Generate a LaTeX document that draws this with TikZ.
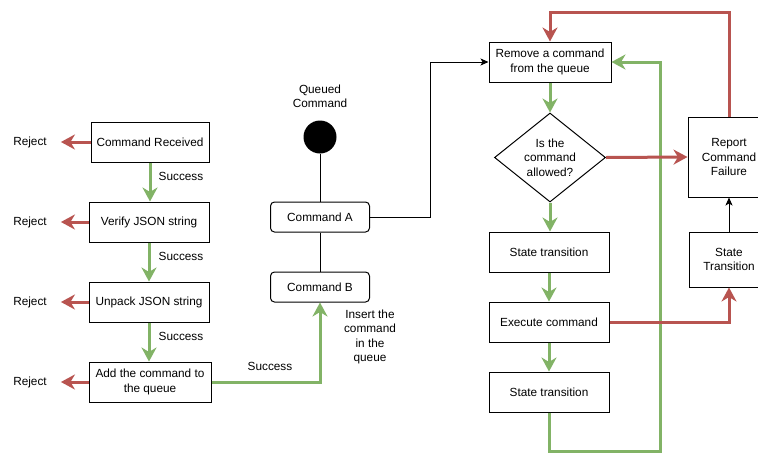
\documentclass[tikz,border=0pt]{standalone}
\usepackage{fontspec}
\setmainfont{Liberation Sans}
\usetikzlibrary{arrows.meta,shapes.geometric}
\definecolor{gr}{HTML}{82B366}
\definecolor{rd}{HTML}{B85450}
\tikzset{
  txt/.style={font=\fontsize{11.8}{14.4}\selectfont, align=center, inner sep=0pt},
  box/.style={txt, draw=black, line width=1pt, minimum width=120pt, minimum height=40pt},
  rbox/.style={box, rounded corners=4pt, minimum width=99pt, minimum height=30pt},
  garr/.style={draw=gr, line width=3pt, -{Stealth[length=14pt,width=15pt,inset=4.5pt]}},
  rarr/.style={draw=rd, line width=3pt, -{Stealth[length=14pt,width=15pt,inset=4.5pt]}},
  barr/.style={draw=black, line width=1pt, -{Stealth[length=8pt,width=7pt,inset=2pt]}},
  bline/.style={draw=black, line width=1pt},
}
\begin{document}
\begin{tikzpicture}[x=1pt,y=-1pt]
\clip (0,0) rectangle (758,453);
\fill[white] (0,0) rectangle (758,453);
% left column
\node[box, minimum width=118pt] (cr) at (150,142) {Command Received};
\node[box] (vj) at (149,222) {Verify JSON string};
\node[box] (uj) at (149,302) {Unpack JSON string};
\node[box, minimum width=122pt] (ad) at (150,382) {Add the command to\\the queue};
\node[txt] (rj1) at (30,142) {Reject};
\node[txt] (rj2) at (30,222) {Reject};
\node[txt] (rj3) at (30,302) {Reject};
\node[txt] (rj4) at (30,382) {Reject};
\node[txt] (s1) at (181,176) {Success};
\node[txt] (s2) at (181,256) {Success};
\node[txt] (s3) at (181,336) {Success};
\foreach \a/\b in {cr/rj1,vj/rj2,uj/rj3,ad/rj4}
  \draw[rarr, shorten >=14pt] (\a.west) -- (\b.east);
\draw[garr] (cr.south) -- (cr.south |- vj.north);
\draw[garr] (vj.south) -- (vj.south |- uj.north);
\draw[garr] (uj.south) -- (uj.south |- ad.north);
% queue
\node[txt] (qc) at (320,96) {Queued\\Command};
\node[circle, fill=black, minimum size=33pt, inner sep=0pt] (dot) at (320,137) {};
\node[rbox] (ca) at (320,217) {Command A};
\node[rbox] (cb) at (320,287) {Command B};
\node[txt] (s4) at (270,366) {Success};
\node[txt] (ins) at (370,337) {Insert the\\command\\in the\\queue};
\draw[bline] (dot.south) -- (ca.north);
\draw[bline] (ca.south) -- (cb.north);
\draw[garr] (ad.east) -| (cb.south);
% right part
\node[box, minimum width=122pt] (rm) at (550,62) {Remove a command\\from the queue};
\node[draw=black, line width=1pt, diamond, minimum width=111pt, minimum height=89pt, inner sep=0pt,
  label={[txt]center:Is the\\command\\allowed?}] (dm) at (550,157.5) {};
\node[box] (st1) at (549,252) {State transition};
\node[box] (ex) at (549,322) {Execute command};
\node[box] (st2) at (549,392) {State transition};
\node[box, minimum width=82pt, minimum height=80pt] (rf) at (729,157) {Report\\Command\\Failure};
\node[box, minimum width=80pt, minimum height=55pt] (stt) at (729,259.5) {State\\Transition};
\coordinate (bend) at (430,62);
\coordinate (top) at (640,12);
\coordinate (bot) at (660,451);
\draw[barr] (ca.east) -| (bend) -- (rm.west);
\draw[garr] (rm.south) -- (dm.north);
\draw[garr] (dm.south) -- (dm.south |- st1.north);
\draw[garr] (st1.south) -- (ex.north);
\draw[garr] (ex.south) -- (st2.north);
\draw[garr] (st2.south) |- (bot) |- (rm.east);
\draw[rarr] (dm.east) -- (rf.west);
\draw[rarr] (rf.north) |- (top) -| (rm.north);
\draw[barr] (stt.north) -- (rf.south);
\draw[rarr] (ex.east) -| (stt.south);
\end{tikzpicture}
\end{document}
